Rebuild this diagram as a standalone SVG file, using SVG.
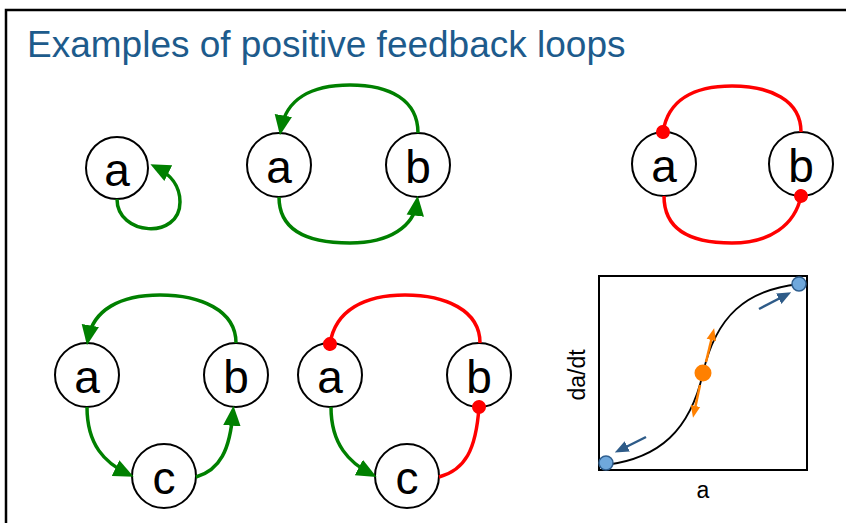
<svg xmlns="http://www.w3.org/2000/svg" width="846" height="523" viewBox="0 0 846 523">
<style>
.node circle{fill:#fff;stroke:#000;stroke-width:2}
.node text{font-family:"Liberation Sans",Arial,sans-serif;font-size:46px;text-anchor:middle;fill:#000}
.act{fill:none;stroke:#008000;stroke-width:3.5;marker-end:url(#arrG)}
.inh{fill:none;stroke:#ff0000;stroke-width:3.5;marker-end:url(#dotR)}
.lbl{font-family:"Liberation Sans",Arial,sans-serif;font-size:23px;fill:#000;text-anchor:middle}
</style>
<defs>
<marker id="arrG" markerUnits="userSpaceOnUse" markerWidth="20" markerHeight="20" viewBox="0 0 16 14" refX="11" refY="7" orient="auto">
<path d="M0,0 L16,7 L0,14 z" fill="#008000"/>
</marker>
<marker id="dotR" markerUnits="userSpaceOnUse" markerWidth="16" markerHeight="16" viewBox="0 0 16 16" refX="8" refY="8" orient="auto">
<circle cx="8" cy="8" r="7" fill="#ff0000"/>
</marker>
<marker id="arrO" markerUnits="userSpaceOnUse" markerWidth="12" markerHeight="12" viewBox="0 0 10 8" refX="6" refY="4" orient="auto">
<path d="M0,0 L10,4 L0,8 z" fill="#ff8000"/>
</marker>
<marker id="arrB" markerUnits="userSpaceOnUse" markerWidth="14" markerHeight="14" viewBox="0 0 12 10" refX="7" refY="5" orient="auto">
<path d="M0,0 L12,5 L0,10 z" fill="#2e5b88"/>
</marker>
</defs>
<rect x="0" y="0" width="846" height="523" fill="#fff"/>
<path d="M6,523 L6,10 L846,10" fill="none" stroke="#000" stroke-width="2.5"/>
<text x="27" y="57" font-family="'Liberation Sans',Arial,sans-serif" font-size="37" fill="#1d5b8c">Examples of positive feedback loops</text>

<g id="node-g1-a" class="node"><circle cx="117" cy="168" r="31"/><text x="117" y="186">a</text></g>
<g id="node-g2-a" class="node"><circle cx="279" cy="165" r="32"/><text x="279" y="183">a</text></g>
<g id="node-g2-b" class="node"><circle cx="418" cy="165" r="32"/><text x="418" y="183">b</text></g>
<g id="node-g3-a" class="node"><circle cx="664" cy="164" r="32"/><text x="664" y="182">a</text></g>
<g id="node-g3-b" class="node"><circle cx="801" cy="164" r="32"/><text x="801" y="182">b</text></g>
<g id="node-g4-a" class="node"><circle cx="87" cy="375" r="32"/><text x="87" y="393">a</text></g>
<g id="node-g4-b" class="node"><circle cx="236" cy="375" r="32"/><text x="236" y="393">b</text></g>
<g id="node-g4-c" class="node"><circle cx="164" cy="476" r="32"/><text x="164" y="494">c</text></g>
<g id="node-g5-a" class="node"><circle cx="330" cy="375" r="32"/><text x="330" y="393">a</text></g>
<g id="node-g5-b" class="node"><circle cx="479" cy="375" r="32"/><text x="479" y="393">b</text></g>
<g id="node-g5-c" class="node"><circle cx="407" cy="476" r="32"/><text x="407" y="494">c</text></g>

<g id="connectors">
<path class="act" d="M117,199 C117,236 180,240 180,202 C180,186 170,174 156,167"/>
<path class="act" d="M418,133 C418,100 390,85 350,85 C310,85 286,100 281,129"/>
<path class="act" d="M279,197 C279,235 315,243 350,243 C390,243 414,226 417,202"/>
<path class="inh" d="M801,132 C801,100 770,86 732,86 C694,86 668,100 663,132"/>
<path class="inh" d="M664,196 C664,235 700,243 732,243 C770,243 795,225 801,196"/>
<path class="act" d="M236,343 C236,310 200,295 160,295 C120,295 93,310 88,339"/>
<path class="act" d="M87,407 C87,445 105,463 128,474"/>
<path class="act" d="M196,477 C220,470 230,450 233,412"/>
<path class="inh" d="M480,343 C480,310 445,295 405,295 C365,295 335,310 330,344"/>
<path class="act" d="M331,407 C331,445 350,463 371,474"/>
<path class="inh" d="M439,477 C465,470 476,450 479,407"/>
</g>

<g id="plot">
<rect x="599" y="276" width="208" height="194" fill="none" stroke="#000" stroke-width="2"/>
<path d="M606,465 C660,458 690,430 703,373 C716,316 746,290 799,284" fill="none" stroke="#000" stroke-width="1.8"/>
<path d="M706,362 L713,333" fill="none" stroke="#ff8000" stroke-width="2.5" marker-end="url(#arrO)"/>
<path d="M700,385 L694,413" fill="none" stroke="#ff8000" stroke-width="2.5" marker-end="url(#arrO)"/>
<circle cx="703" cy="373" r="8.5" fill="#ff8000"/>
<path d="M759,309 L786,295" fill="none" stroke="#2e5b88" stroke-width="2.5" marker-end="url(#arrB)"/>
<path d="M646,437 L620,450" fill="none" stroke="#2e5b88" stroke-width="2.5" marker-end="url(#arrB)"/>
<circle cx="606" cy="463" r="7" fill="#6fa8dc" stroke="#2f5f8f" stroke-width="1.5"/>
<circle cx="799" cy="284" r="7" fill="#6fa8dc" stroke="#2f5f8f" stroke-width="1.5"/>
<text class="lbl" transform="translate(585,375) rotate(-90)">da/dt</text>
<text class="lbl" x="703" y="498">a</text>
</g>
</svg>
